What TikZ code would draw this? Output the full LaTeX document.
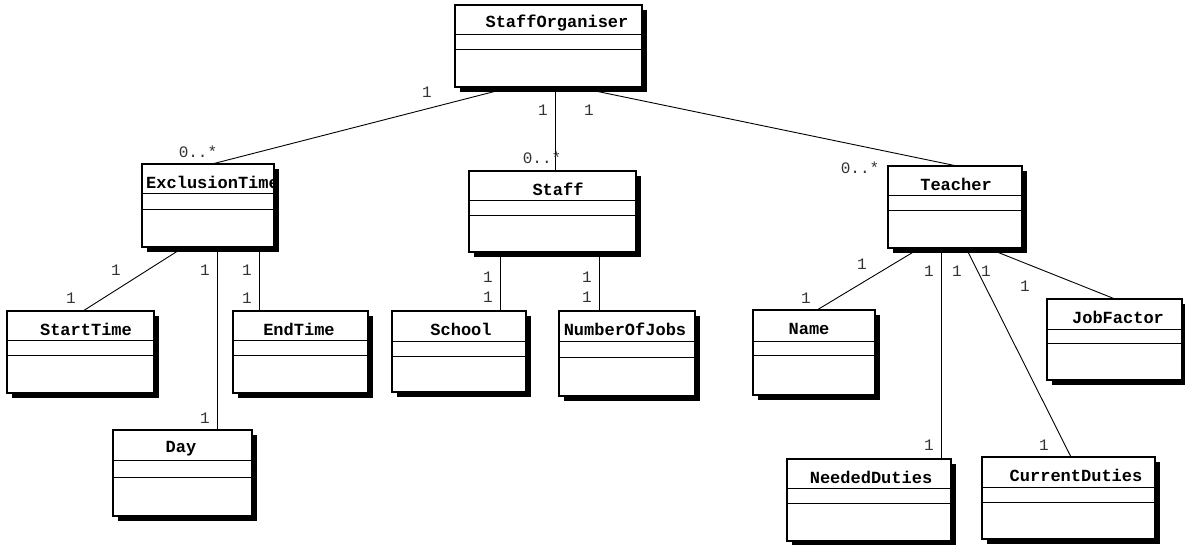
\documentclass[tikz,border=0pt]{standalone}
\usepackage{fontspec}
\setmonofont{Liberation Mono}
\usetikzlibrary{shadows}

\tikzset{
  cls/.style={draw, fill=white, line width=1.1pt, inner sep=0pt, outer sep=0pt,
    drop shadow={shadow xshift=4.5pt, shadow yshift=-4.5pt, opacity=1, fill=black}},
  sep/.style={line width=0.9pt},
  title/.style={font=\ttfamily\bfseries\fontsize{17}{19}\selectfont, inner sep=0pt},
  mult/.style={font=\ttfamily\fontsize{16}{18}\selectfont, text=black!80, inner sep=0pt},
  assoc/.style={line width=0.9pt},
}

% #1 name, #2..#5 left top right bottom, #6 #7 compartment rules, #8 title x, #9 title
\newcommand\umlclass[9]{%
  \node[cls, minimum width={(#4-#2)*1pt}, minimum height={(#5-#3)*1pt}] (#1)
    at ({(#2+#4)/2},{(#3+#5)/2}) {};
  \draw[sep] (#1.west |- 0,#6) -- (#1.east |- 0,#6);
  \draw[sep] (#1.west |- 0,#7) -- (#1.east |- 0,#7);
  \node[title] (#1-title) at (#8,{(#3+#6)/2+3.5}) {#9};
}

\begin{document}
\begin{tikzpicture}[x=1pt, y=-1pt]
\useasboundingbox (0,0) rectangle (1185,544);

% classes
\umlclass{so}{455}{5}{642}{87}{34}{49}{557}{StaffOrganiser}
\umlclass{ex}{142}{164}{274}{247}{193}{209}{208}{}
\begin{scope}
  \clip (143,165) rectangle (273.4,192);
  \node[title, anchor=west] (ex-name) at (146,{(164+193)/2+3.5}) {ExclusionTime};
\end{scope}
\umlclass{st}{469}{171}{636}{252}{200}{215}{558}{Staff}
\umlclass{te}{888}{166}{1022}{248}{195}{210}{956}{Teacher}
\umlclass{stt}{7}{311}{154}{393}{340}{355}{86}{StartTime}
\umlclass{et}{233}{311}{368}{393}{340}{355}{299}{EndTime}
\umlclass{day}{113}{430}{252}{516}{460}{477}{181}{Day}
\umlclass{sch}{392}{311}{526}{392}{341}{356}{461}{School}
\umlclass{noj}{559}{311}{695}{396}{341}{357}{625}{NumberOfJobs}
\umlclass{nm}{753}{310}{875}{395}{341}{355}{809}{Name}
\umlclass{jf}{1047}{299}{1182}{380}{329}{343}{1118}{JobFactor}
\umlclass{nd}{787}{459}{951}{541}{488}{503}{871}{NeededDuties}
\umlclass{cd}{982}{457}{1155}{539}{487}{502}{1076}{CurrentDuties}

% associations
\draw[assoc] (so.south -| 512,0) -- (ex.north -| 212,0);
\draw[assoc] (so.south -| 555,0) -- (st.north -| 555,0);
\draw[assoc] (so.south -| 576,0) -- (te.north -| 957,0);
\draw[assoc] (ex.south -| 184,0) -- (stt.north -| 83,0);
\draw[assoc] (ex.south -| 217,0) -- (day.north -| 217,0);
\draw[assoc] (ex.south -| 259,0) -- (et.north -| 259,0);
\draw[assoc] (st.south -| 500,0) -- (sch.north -| 500,0);
\draw[assoc] (st.south -| 599,0) -- (noj.north -| 599,0);
\draw[assoc] (te.south -| 920,0) -- (nm.north -| 817,0);
\draw[assoc] (te.south -| 941,0) -- (nd.north -| 941,0);
\draw[assoc] (te.south -| 966,0) -- (cd.north -| 1071,0);
\draw[assoc] (te.south -| 987,0) -- (jf.north -| 1115,0);

% multiplicities
\node[mult] (m-so-ex) at (427,92) {1};
\node[mult] (m-ex-so) at (198,152) {0..*};
\node[mult] (m-so-st) at (543,110) {1};
\node[mult] (m-st-so) at (542,158) {0..*};
\node[mult] (m-so-te) at (589,110) {1};
\node[mult] (m-te-so) at (860,168) {0..*};

\node[mult] (m-ex-stt) at (116,270) {1};
\node[mult] (m-stt-ex) at (71,298) {1};
\node[mult] (m-ex-day) at (205,270) {1};
\node[mult] (m-day-ex) at (205,418) {1};
\node[mult] (m-ex-et) at (247,270) {1};
\node[mult] (m-et-ex) at (247,298) {1};

\node[mult] (m-st-sch) at (488,277) {1};
\node[mult] (m-sch-st) at (488,297) {1};
\node[mult] (m-st-noj) at (587,277) {1};
\node[mult] (m-noj-st) at (587,297) {1};

\node[mult] (m-te-nm) at (862,264) {1};
\node[mult] (m-nm-te) at (806,298) {1};
\node[mult] (m-te-nd) at (929,271) {1};
\node[mult] (m-nd-te) at (929,445) {1};
\node[mult] (m-te-cd1) at (957,271) {1};
\node[mult] (m-te-cd2) at (986,271) {1};
\node[mult] (m-cd-te) at (1044,445) {1};
\node[mult] (m-te-jf) at (1025,286) {1};
\end{tikzpicture}
\end{document}
